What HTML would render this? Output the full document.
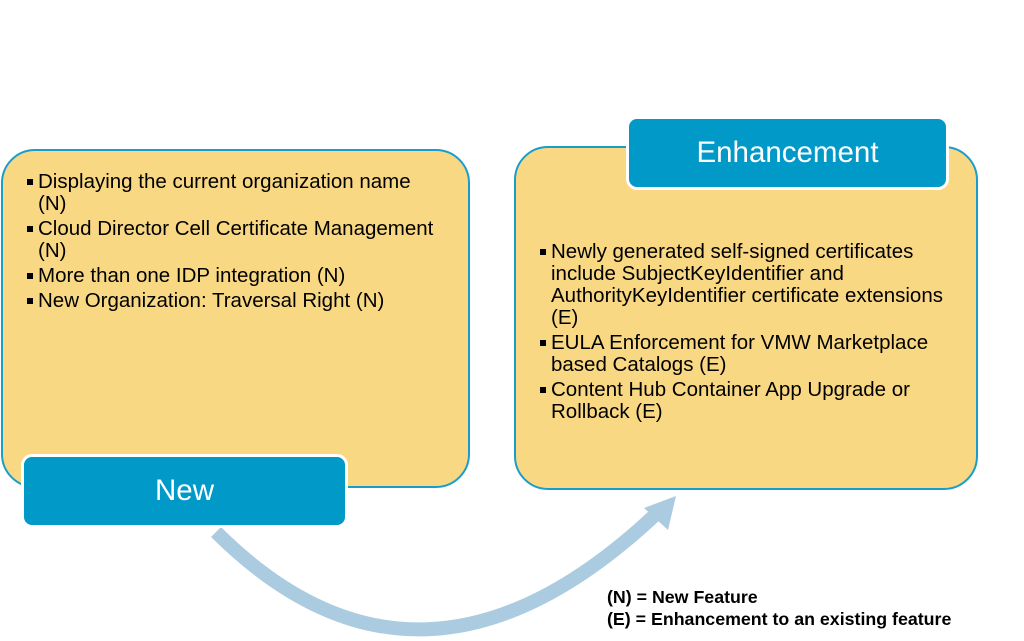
<!DOCTYPE html>
<html><head><style>
body{margin:0;width:1024px;height:641px;background:#fff;position:relative;overflow:hidden;font-family:"Liberation Sans",sans-serif}
.box{position:absolute;background:#f8d883;border:2.5px solid #1b9dcb;border-radius:34px;box-sizing:border-box}
.lbl{position:absolute;background:#0099c8;border:3px solid #fff;border-radius:11px;box-sizing:border-box;color:#fff;font-size:29.5px;text-align:center}
ul{position:absolute;margin:0;padding:0;list-style:none;font-size:20.5px;line-height:22px;color:#000}
li{position:relative;padding-left:11px;margin-bottom:3px}
li:before{content:"";position:absolute;left:0;top:8px;width:6px;height:6px;background:#000}
.leg{position:absolute;left:607px;font-size:17.8px;font-weight:bold}
</style></head><body>
<svg width="1024" height="641" style="position:absolute;left:0;top:0">
<path d="M216 532 Q420 735 655 515" fill="none" stroke="#abcbe0" stroke-width="14"/>
<polygon points="676,496 644,508 668,530" fill="#abcbe0"/>
</svg>
<div class="box" style="left:1px;top:149px;width:469px;height:339px"></div>
<div class="lbl" style="left:21px;top:454px;width:327px;height:74px;line-height:68px">New</div>
<ul style="left:27px;top:171px;width:410px">
<li>Displaying the current organization name (N)</li>
<li>Cloud Director Cell Certificate Management (N)</li>
<li>More than one IDP integration (N)</li>
<li>New Organization: Traversal Right (N)</li>
</ul>
<div class="box" style="left:514px;top:146px;width:464px;height:344px"></div>
<div class="lbl" style="left:626px;top:116px;width:323px;height:74px;line-height:68px">Enhancement</div>
<ul style="left:540px;top:241px;width:415px">
<li>Newly generated self-signed certificates include SubjectKeyIdentifier and AuthorityKeyIdentifier certificate extensions (E)</li>
<li>EULA Enforcement for VMW Marketplace based Catalogs (E)</li>
<li>Content Hub Container App Upgrade or Rollback (E)</li>
</ul>
<div class="leg" style="top:587px">(N) = New Feature</div>
<div class="leg" style="top:609px">(E) = Enhancement to an existing feature</div>
</body></html>
